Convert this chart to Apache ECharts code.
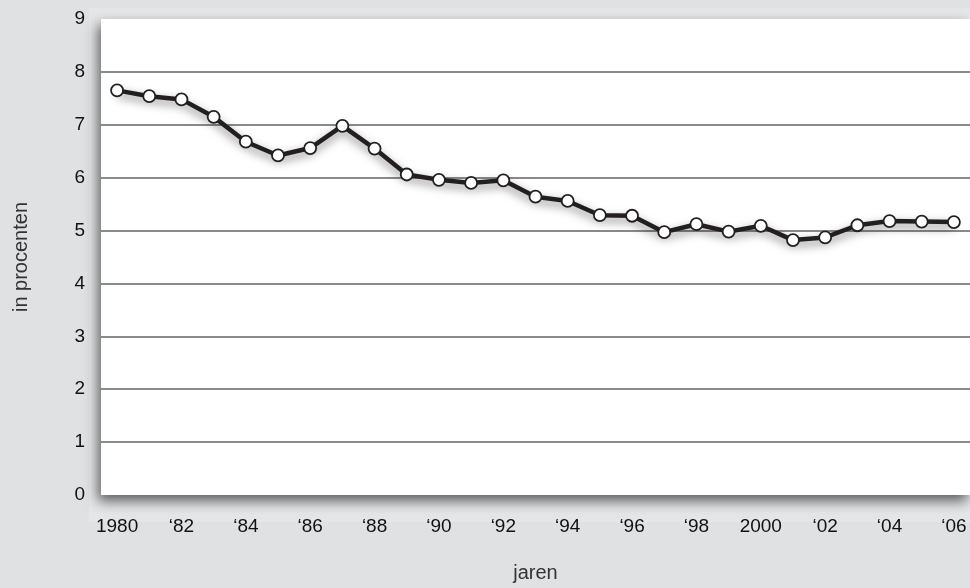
<!DOCTYPE html>
<html>
<head>
<meta charset="utf-8">
<script src="https://cdn.jsdelivr.net/npm/echarts@6/dist/echarts.min.js"></script>
<style>
html,body{margin:0;padding:0;background:#e0e1e3;}
#c{width:970px;height:588px;}
</style>
</head>
<body>
<div id="c"></div>
<script>
const years = ['1980','1981','1982','1983','1984','1985','1986','1987','1988','1989','1990','1991','1992','1993','1994','1995','1996','1997','1998','1999','2000','2001','2002','2003','2004','2005','2006'];
const tickLabels = ['1980','\u201882','\u201884','\u201886','\u201888','\u201890','\u201892','\u201894','\u201896','\u201898','2000','\u201802','\u201804','\u201806'];
const values = [7.65,7.54,7.48,7.15,6.68,6.42,6.56,6.98,6.55,6.06,5.96,5.90,5.95,5.64,5.56,5.29,5.28,4.97,5.12,4.98,5.09,4.82,4.87,5.10,5.18,5.17,5.16];
const yTicks = [0,1,2,3,4,5,6,7,8,9];

const grey = '#8a8a8c';
const splitColors = yTicks.map((v,i)=> (i===0||i===yTicks.length-1) ? 'rgba(0,0,0,0)' : grey);
const font = '"Liberation Sans", Arial, sans-serif';

const chart = echarts.init(document.getElementById('c'));
chart.setOption({
  backgroundColor:'#e0e1e3',
  animation:false,
  graphic:[{
    type:'rect', z:-10, silent:true,
    shape:{x:89,y:8,width:900,height:514},
    style:{fill:'#e5e6e8'}
  }],
  grid:{
    left:101, top:19, width:877.5, height:480.5,
    show:true, backgroundColor:'#ffffff', borderWidth:0,
    shadowColor:'rgba(0,0,0,0.6)', shadowBlur:12, shadowOffsetX:-3, shadowOffsetY:6
  },
  xAxis:{
    type:'category', data:years, boundaryGap:true,
    axisLine:{show:false}, axisTick:{show:false}, splitLine:{show:false},
    axisLabel:{
      interval:0, margin:22, fontSize:19, color:'#111', fontFamily:font,
      formatter:(v,i)=> i%2===0 ? tickLabels[i/2] : ''
    },
    name:'jaren', nameLocation:'middle', nameGap:68,
    nameTextStyle:{fontSize:20, color:'#333', fontFamily:font}
  },
  yAxis:{
    type:'value', min:yTicks[0], max:yTicks[yTicks.length-1], interval:1,
    axisLine:{show:false}, axisTick:{show:false},
    axisLabel:{margin:16, fontSize:19, color:'#111', fontFamily:font},
    splitLine:{show:true, lineStyle:{color:splitColors, width:2}},
    name:'in procenten', nameLocation:'middle', nameGap:70,
    nameTextStyle:{fontSize:20, color:'#333', fontFamily:font}
  },
  series:[{
    type:'line', data:values,
    symbol:'circle', symbolSize:12, showSymbol:true,
    lineStyle:{color:'#231f20', width:4.5, shadowColor:'rgba(0,0,0,0.5)', shadowBlur:10, shadowOffsetY:4},
    itemStyle:{color:'#ffffff', borderColor:'#231f20', borderWidth:1.8},
    z:3
  }]
});
</script>
</body>
</html>
